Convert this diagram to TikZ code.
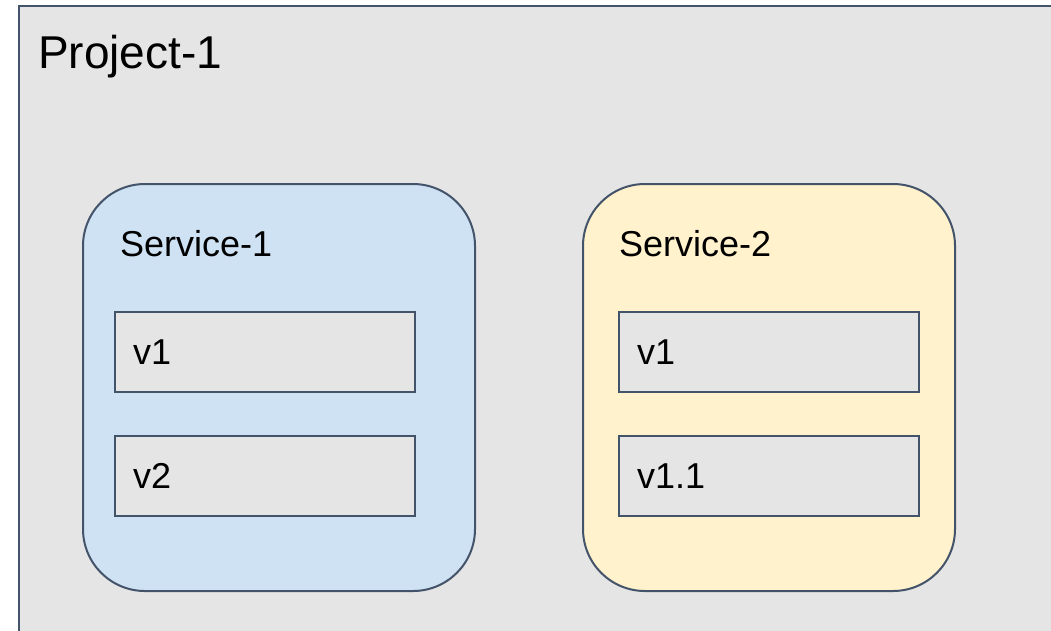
\documentclass[tikz,border=0pt]{standalone}
\usepackage{fontspec}
\setmainfont{Liberation Sans}
\definecolor{edge}{HTML}{43536A}
\definecolor{panel}{HTML}{E5E5E5}
\definecolor{svcblue}{HTML}{CFE2F3}
\definecolor{svcyellow}{HTML}{FFF2CC}
\tikzset{
  x=1pt, y=-1pt,
  projectbox/.style={draw=edge, fill=panel, line width=2.2pt, anchor=north west, inner sep=0pt},
  servicebox/.style={draw=edge, line width=2pt, rounded corners=62pt, anchor=north west, inner sep=0pt},
  versionbox/.style={draw=edge, fill=panel, line width=2pt, anchor=north west,
    minimum height=80pt, inner xsep=18pt, text width=264pt, align=left,
    font=\fontsize{36}{40}\selectfont},
  title/.style={anchor=base west, inner sep=0pt},
}
\begin{document}
\begin{tikzpicture}
  \clip (0,0) rectangle (1051,630);
  % project panel (runs past the right and bottom edges)
  \node[projectbox, minimum width=1100pt, minimum height=700pt] (proj) at (18,5) {};
  \node[title, font=\fontsize{46}{52}\selectfont] (projlabel) at (38,68) {Project-1};

  % services
  \node[servicebox, fill=svcblue, minimum width=392pt, minimum height=407pt] (svc1) at (82,183) {};
  \node[servicebox, fill=svcyellow, minimum width=372pt, minimum height=407pt] (svc2) at (582,183) {};
  \node[title, font=\fontsize{36}{40}\selectfont] (svc1label) at (120,256) {Service-1};
  \node[title, font=\fontsize{36}{40}\selectfont] (svc2label) at (619,256) {Service-2};

  % versions
  \node[versionbox] (s1v1) at (114,311) {v1};
  \node[versionbox] (s1v2) at (114,435) {v2};
  \node[versionbox] (s2v1) at (618,311) {v1};
  \node[versionbox] (s2v11) at (618,435) {v1.1};
\end{tikzpicture}
\end{document}
